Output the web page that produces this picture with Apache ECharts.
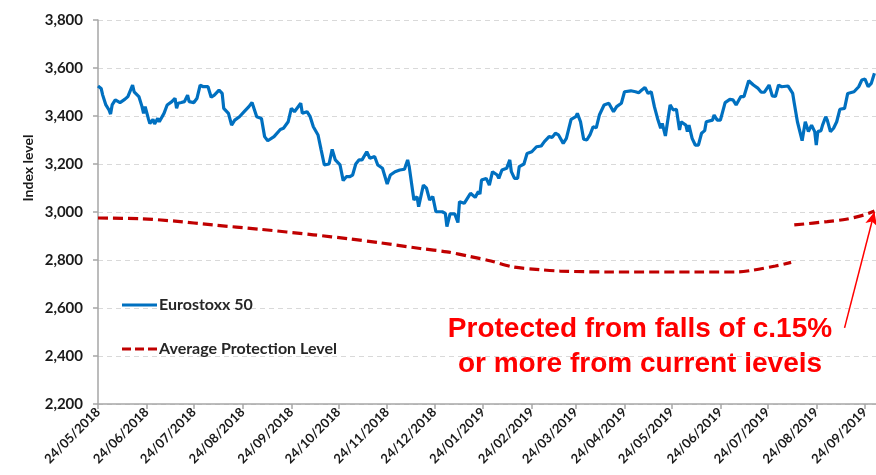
<!DOCTYPE html>
<html>
<head>
<meta charset="utf-8">
<script src="https://cdn.jsdelivr.net/npm/echarts@6/dist/echarts.min.js"></script>
<style>
html,body{margin:0;padding:0;background:#fff;}
#chart{width:876px;height:475px;}
</style>
</head>
<body>
<div id="chart"></div>
<script>
// Day offsets counted from the first date of the chart
const startDate = [2018, 4, 24];
const endDay = 495;

// Eurostoxx 50: [day offset, index level]
const stoxxPoints = [
[0,3525],[2,3515],[3,3487],[5,3446],[7,3425],[8,3408],[9,3446],[11,3467],[14,3456],[15,3460],
[17,3469],[19,3481],[20,3478],[22,3529],[23,3501],[26,3481],[28,3439],[29,3411],[30,3439],[32,3390],
[33,3369],[35,3386],[36,3367],[38,3390],[39,3376],[42,3411],[44,3446],[47,3460],[49,3474],[50,3432],
[51,3453],[53,3456],[55,3460],[57,3487],[58,3460],[61,3456],[63,3474],[65,3529],[67,3522],[70,3522],
[71,3525],[72,3478],[74,3487],[77,3508],[79,3494],[80,3432],[83,3411],[85,3362],[87,3383],[90,3397],
[93,3418],[96,3439],[98,3456],[99,3456],[101,3397],[104,3390],[106,3314],[108,3297],[112,3314],[116,3344],
[118,3349],[121,3376],[123,3432],[125,3418],[129,3453],[130,3411],[133,3418],[135,3397],[137,3355],[140,3321],
[142,3258],[144,3196],[147,3200],[149,3261],[151,3217],[154,3196],[156,3131],[158,3147],[160,3147],[162,3154],
[164,3200],[166,3217],[168,3217],[171,3251],[173,3224],[176,3231],[178,3196],[181,3182],[184,3117],[186,3154],
[189,3168],[192,3175],[195,3178],[197,3217],[198,3189],[201,3050],[203,3064],[204,3022],[207,3112],[209,3099],
[211,3050],[213,3064],[215,3001],[219,3001],[221,2994],[222,2939],[224,2992],[227,2992],[229,2956],[230,3043],
[233,3036],[237,3078],[240,3061],[242,3085],[243,3075],[244,3133],[247,3140],[249,3112],[251,3168],[254,3154],
[255,3140],[257,3175],[260,3182],[262,3217],[263,3168],[265,3140],[267,3140],[268,3189],[271,3200],[273,3244],
[276,3251],[279,3272],[282,3275],[284,3293],[287,3314],[289,3311],[291,3328],[293,3321],[296,3286],[298,3307],
[301,3386],[304,3397],[305,3411],[307,3376],[309,3303],[311,3300],[313,3321],[315,3355],[317,3351],[319,3404],
[322,3446],[325,3453],[328,3418],[330,3439],[333,3453],[335,3501],[339,3505],[342,3501],[344,3497],[346,3508],
[348,3519],[350,3494],[352,3501],[354,3439],[356,3390],[358,3349],[359,3369],[361,3317],[364,3446],[366,3425],
[368,3428],[370,3342],[371,3376],[374,3362],[375,3335],[376,3362],[378,3307],[380,3279],[382,3279],[384,3328],
[386,3339],[387,3376],[391,3383],[392,3404],[394,3383],[396,3383],[399,3456],[402,3469],[404,3467],[406,3446],
[409,3481],[411,3481],[414,3547],[417,3529],[420,3515],[422,3499],[424,3499],[427,3529],[429,3484],[431,3481],
[433,3529],[435,3522],[436,3525],[439,3525],[440,3515],[442,3494],[443,3453],[445,3376],[446,3376],[448,3297],
[450,3376],[452,3335],[454,3362],[456,3335],[457,3279],[458,3335],[460,3339],[461,3362],[463,3397],[464,3383],
[466,3335],[468,3349],[470,3376],[472,3428],[475,3432],[477,3494],[481,3501],[484,3522],[486,3550],[488,3554],
[490,3522],[492,3536],[494,3578]
];

// Average Protection Level: [day offset, level] ('-' = gap)
const protPoints = [
[0,2975],[27,2972],[49,2962],[73,2946],[103,2928],[137,2905],[160,2888],[179,2872],[205,2848],[222,2834],
[237,2814],[250,2796],[264,2771],[281,2760],[294,2754],[324,2750],[383,2750],[407,2750],[417,2758],[431,2775],
[441,2790],[442,'-'],[443,2946],[464,2960],[476,2970],[487,2987],[494,3004]
];

// Arrow annotation: [day offset, level] from start to tip
const arrowFrom = [475, 2517];
const arrowTo = [494, 3000];

const tickLabels = ['24/05/2018','24/06/2018','24/07/2018','24/08/2018','24/09/2018','24/10/2018',
'24/11/2018','24/12/2018','24/01/2019','24/02/2019','24/03/2019','24/04/2019','24/05/2019',
'24/06/2019','24/07/2019','24/08/2019','24/09/2019'];

const yTicks = [2200, 3800, 200];
const seriesNames = ['Eurostoxx 50', 'Average Protection Level'];
const noteLines = ['Protected from falls of c.15%', 'or more from current levels'];
const yName = 'Index level';

const DAY = 86400000;
const t0 = Date.UTC(startDate[0], startDate[1], startDate[2]);
function labelToDay(s) { const p = s.split('/'); return Math.round((Date.UTC(+p[2], +p[1] - 1, +p[0]) - t0) / DAY); }
function pad(n) { return n < 10 ? '0' + n : '' + n; }
function fmtDay(v) { const d = new Date(t0 + Math.round(v) * DAY); return pad(d.getUTCDate()) + '/' + pad(d.getUTCMonth() + 1) + '/' + d.getUTCFullYear(); }

const tickDays = tickLabels.map(labelToDay);
const axisColor = '#a6a6a6';
const labelFont = 'Lato';
const blue = '#0070c0';
const red = '#c00000';

const chart = echarts.init(document.getElementById('chart'), null, {renderer: 'canvas'});
chart.setOption({
  animation: false,
  backgroundColor: '#ffffff',
  grid: {left: 98, right: 0, top: 20, bottom: 71, containLabel: false, outerBoundsMode: 'none'},
  legend: {
    orient: 'vertical', left: 117, top: 292, itemGap: 28, itemWidth: 35, itemHeight: 3,
    data: [
      {name: seriesNames[0], icon: 'path://M0,0H35V3H0Z', itemStyle: {color: blue}},
      {name: seriesNames[1], icon: 'path://M0,0H9V3H0Z M13,0H22V3H13Z M26,0H35V3H26Z', itemStyle: {color: red}}
    ],
    textStyle: {fontFamily: labelFont, fontWeight: 'bold', fontSize: 16, color: '#262626', padding: [0, 0, 0, -3]}
  },
  xAxis: {
    type: 'value',
    min: 0, max: endDay,
    axisLine: {show: true, onZero: false, lineStyle: {color: axisColor, width: 1.5}},
    axisTick: {show: true, length: 5, lineStyle: {color: axisColor, width: 1.5}, customValues: tickDays},
    axisLabel: {
      customValues: tickDays, rotate: 45, margin: 6, formatter: fmtDay,
      fontFamily: labelFont, fontWeight: 'bold', fontSize: 13, color: '#1a1a1a', hideOverlap: false
    },
    splitLine: {show: false}, minorTick: {show: false}
  },
  yAxis: {
    type: 'value', min: yTicks[0], max: yTicks[1], interval: yTicks[2],
    axisLine: {show: true, lineStyle: {color: axisColor, width: 1.5}},
    axisTick: {show: true, length: 5, lineStyle: {color: axisColor, width: 1.5}},
    axisLabel: {
      margin: 15, fontFamily: labelFont, fontWeight: 'bold', fontSize: 15, color: '#1a1a1a',
      formatter: v => v.toLocaleString('en-US')
    },
    splitLine: {show: true, lineStyle: {color: '#d9d9d9', type: [5, 4], width: 1}}
  },
  series: [
    {
      name: seriesNames[0], type: 'line', symbol: 'none', showSymbol: false,
      data: stoxxPoints,
      lineStyle: {color: blue, width: 3.2}, itemStyle: {color: blue}, z: 3
    },
    {
      name: seriesNames[1], type: 'line', symbol: 'none', showSymbol: false, smooth: 0.3,
      connectNulls: false,
      data: protPoints,
      lineStyle: {color: red, width: 3.2, type: [10, 5]}, itemStyle: {color: red}, z: 2,
      markLine: {
        silent: true, animation: false,
        symbol: ['none', 'arrow'], symbolSize: [9, 13],
        label: {show: false},
        lineStyle: {color: '#ff0000', width: 1.5, type: 'solid'},
        emphasis: {disabled: true},
        data: [[
          {coord: arrowFrom},
          {coord: arrowTo}
        ]]
      }
    }
  ],
  graphic: [
    {type: 'text', x: 28, y: 168, rotation: Math.PI / 2,
     style: {text: yName, font: 'bold 14px Lato', fill: '#1a1a1a', textAlign: 'center', textVerticalAlign: 'middle'}},
    {type: 'text', x: 640, y: 329,
     style: {text: noteLines[0], font: 'bold 28px "Liberation Sans"', fill: '#ff0000', textAlign: 'center', textVerticalAlign: 'middle'}},
    {type: 'text', x: 640, y: 364,
     style: {text: noteLines[1], font: 'bold 28px "Liberation Sans"', fill: '#ff0000', textAlign: 'center', textVerticalAlign: 'middle'}}
  ]
});
</script>
</body>
</html>
